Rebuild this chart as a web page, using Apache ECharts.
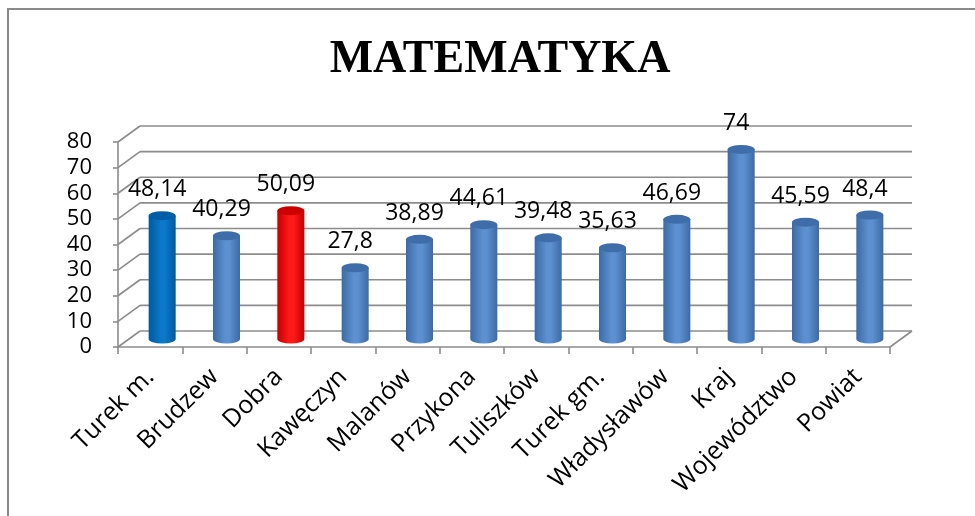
<!DOCTYPE html>
<html>
<head>
<meta charset="utf-8">
<script src="https://cdn.jsdelivr.net/npm/echarts@6/dist/echarts.min.js"></script>
<style>
  html, body { margin: 0; padding: 0; background: #fff; }
  #chart { width: 975px; height: 516px; }
</style>
</head>
<body>
<div id="chart"></div>
<script>
const categories = ['Turek m.', 'Brudzew', 'Dobra', 'Kawęczyn', 'Malanów', 'Przykona',
  'Tuliszków', 'Turek gm.', 'Władysławów', 'Kraj', 'Województwo', 'Powiat']
const scores = [48.14, 40.29, 50.09, 27.8, 38.89, 44.61, 39.48, 35.63, 46.69, 74, 45.59, 48.4]
const yTicks = [0, 10, 20, 30, 40, 50, 60, 70, 80]

// 3D look: back wall offset and bar depth offset (px)
const WALL = [22, -16]
const BAR = [12, -8]
const GRID_COLOR = '#8c8c8c'

const palettes = {
  normal: { edge: '#3c6aa6', mid: '#5d90d0', top: '#3f6da9' },
  'Turek m.': { edge: '#005a9e', mid: '#0b78c8', top: '#005ea6' },
  Dobra: { edge: '#c40000', mid: '#ff1a1a', top: '#cc0000' },
}

const chart = echarts.init(document.getElementById('chart'))

function fmt(v) {
  return String(v).replace('.', ',')
}

function renderWall(params, api) {
  const cs = params.coordSys
  const v = api.value(1)
  const y = api.coord([0, v])[1]
  const x0 = cs.x
  const x1 = cs.x + cs.width
  const style = { stroke: GRID_COLOR, lineWidth: 1.6 }
  const children = [
    { type: 'line', shape: { x1: x0, y1: y, x2: x0 + WALL[0], y2: y + WALL[1] }, style },
    { type: 'line', shape: { x1: x0 + WALL[0], y1: y + WALL[1], x2: x1 + WALL[0], y2: y + WALL[1] }, style },
  ]
  if (v === 0) {
    children.push({ type: 'line', shape: { x1: x1, y1: y, x2: x1 + WALL[0], y2: y + WALL[1] }, style })
  }
  return { type: 'group', children }
}

function renderBar(params, api) {
  const idx = api.value(0)
  const val = api.value(1)
  const base = api.coord([idx, 0])
  const top = api.coord([idx, val])
  const band = api.size([1, 0])[0]
  const r = band * 0.21
  const ry = 4.5
  const cx = base[0] + BAR[0]
  const yb = base[1] + BAR[1]
  const yt = top[1] + BAR[1]
  const pal = palettes[categories[idx]] || palettes.normal
  const grad = new echarts.graphic.LinearGradient(0, 0, 1, 0, [
    { offset: 0, color: pal.edge },
    { offset: 0.45, color: pal.mid },
    { offset: 0.6, color: pal.mid },
    { offset: 1, color: pal.edge },
  ])
  const body = 'M' + (cx - r) + ' ' + yt +
    ' L' + (cx - r) + ' ' + yb +
    ' A' + r + ' ' + ry + ' 0 0 0 ' + (cx + r) + ' ' + yb +
    ' L' + (cx + r) + ' ' + yt + ' Z'
  const cap = 'M' + (cx - r) + ' ' + yt +
    ' A' + r + ' ' + ry + ' 0 1 0 ' + (cx + r) + ' ' + yt +
    ' A' + r + ' ' + ry + ' 0 1 0 ' + (cx - r) + ' ' + yt + ' Z'
  return {
    type: 'group',
    children: [
      { type: 'path', shape: { pathData: body }, style: { fill: grad } },
      { type: 'path', shape: { pathData: cap }, style: { fill: pal.top } },
      {
        type: 'text',
        x: cx - 5,
        y: yt - ry - 10,
        style: {
          text: fmt(val),
          font: '23px "Open Sans"',
          fill: '#000',
          align: 'center',
          verticalAlign: 'bottom',
        },
      },
    ],
  }
}

chart.setOption({
  animation: false,
  backgroundColor: '#fff',
  title: {
    text: 'MATEMATYKA',
    left: 495,
    textAlign: 'center',
    top: 32,
    textStyle: { fontFamily: 'Liberation Serif', fontWeight: 'bold', fontSize: 46, color: '#000' },
  },
  graphic: [{
    type: 'rect',
    shape: { x: 8, y: 9, width: 1200, height: 800 },
    style: { fill: 'none', stroke: '#8a8a8a', lineWidth: 2 },
    silent: true,
  }],
  grid: { left: 118, top: 142, width: 772, height: 205 },
  xAxis: {
    type: 'category',
    data: categories,
    axisLine: { lineStyle: { color: GRID_COLOR, width: 1.6 } },
    axisTick: { show: true, interval: 0, length: 7, lineStyle: { color: GRID_COLOR, width: 1.6 } },
    axisLabel: {
      interval: 0,
      rotate: 45,
      margin: 26,
      fontSize: 25,
      fontFamily: 'Open Sans',
      color: '#000',
      padding: [0, 0, 0, 0],
      offset: [4, 0],
    },
  },
  yAxis: {
    type: 'value',
    min: 0,
    max: 80,
    interval: 10,
    axisLine: { show: true, lineStyle: { color: GRID_COLOR, width: 1.6 } },
    axisTick: { show: true, length: 5, lineStyle: { color: GRID_COLOR, width: 1.6 } },
    splitLine: { show: false },
    axisLabel: { margin: 26, fontSize: 22, fontFamily: 'Open Sans', color: '#000' },
  },
  series: [
    {
      type: 'custom',
      renderItem: renderWall,
      data: yTicks.map(v => [0, v]),
      silent: true,
      z: 1,
    },
    {
      type: 'custom',
      renderItem: renderBar,
      data: scores.map((v, i) => [i, v]),
      z: 3,
    },
  ],
})
</script>
</body>
</html>
